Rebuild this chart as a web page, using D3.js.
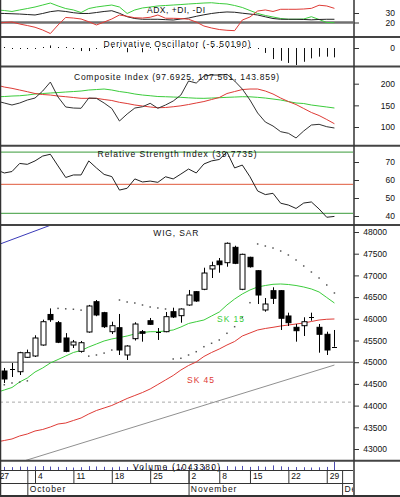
<!DOCTYPE html>
<html><head><meta charset="utf-8">
<script src="https://cdn.jsdelivr.net/npm/d3@7"></script>
<style>body{margin:0;background:#fff}svg{display:block}text{font-family:"Liberation Sans",Arial,sans-serif}</style>
</head><body><svg id="c" width="400" height="497"></svg>
<script>
// ---------- DATA ----------
const days = ["2004-09-27","2004-09-28","2004-09-29","2004-09-30","2004-10-01",
"2004-10-04","2004-10-05","2004-10-06","2004-10-07","2004-10-08",
"2004-10-11","2004-10-12","2004-10-13","2004-10-14","2004-10-15",
"2004-10-18","2004-10-19","2004-10-20","2004-10-21","2004-10-22",
"2004-10-25","2004-10-26","2004-10-27","2004-10-28","2004-10-29",
"2004-11-02","2004-11-03","2004-11-04","2004-11-05",
"2004-11-08","2004-11-09","2004-11-10","2004-11-12",
"2004-11-15","2004-11-16","2004-11-17","2004-11-18","2004-11-19",
"2004-11-22","2004-11-23","2004-11-24","2004-11-25","2004-11-26",
"2004-11-29","2004-11-30","2004-12-01"];

const open  = [null,44797,44850,44781,45113,45143,45396,46100,45910,45558,45396,45250,45696,46394,46141,45703,45795,45166,45542,45703,45956,45703,45703,46164,46072,46318,46625,46680,47148,47332,47293,47647,46680,47417,47108,46203,46648,46648,46065,45804,45841,46050,45804,45643,45357];
const high  = [null,44867,44982,45240,45290,45620,45980,46240,45950,45670,45512,45489,46320,46433,46160,45933,46111,45390,45920,45742,46019,45788,46157,46256,46240,46664,46640,47177,47316,47401,47760,47684,47500,47430,47120,46479,46726,46660,46141,45880,46035,46141,45880,45703,45742];
const low   = [null,44521,44659,44705,45100,45120,45380,45930,45440,45230,45327,45220,45680,46060,45790,45650,45166,45051,45500,45473,45860,45512,45690,46019,45910,46300,46390,46660,46940,47062,47200,47260,46660,47180,46341,46164,46341,45742,45834,45473,45604,45956,45219,45166,45357];
const close = [null,44613,44840,45219,45219,45558,45933,45980,45460,45250,45466,45449,46295,46088,45818,45841,45281,45373,45880,45666,45873,45700,46049,46042,46226,46548,46410,47055,47224,47247,47740,47279,47486,47200,46548,46341,46472,46012,45910,45726,45933,46045,45643,45281,45357];
const sar   = [null,44480,44521,44540,44570,null,null,null,46240,46230,46220,46200,45140,45166,45210,45280,46433,46387,46364,46318,46272,46249,46226,45074,45090,45166,45242,45357,45436,45512,45666,45818,46035,46371,47724,47677,47631,47562,47470,47355,47217,47078,46940,46779,46595];
const sk15  = [44302,44360,44417,44544,44636,44774,44867,44982,45062,45143,45224,45270,45350,45420,45489,45535,45569,45604,45650,45684,45703,45703,45719,45742,45811,45892,45933,45972,46065,46157,46318,46456,46572,46664,46733,46767,46795,46802,46790,46767,46733,46687,46618,46491,46364];
const sk45  = [43162,43196,43231,43300,43346,43415,43450,43507,43576,43599,43657,43715,43807,43887,43945,44003,44083,44164,44233,44302,44383,44486,44590,44694,44820,44924,45005,45132,45224,45304,45396,45477,45604,45673,45742,45777,45804,45834,45857,45880,45903,45938,45972,45989,45996];
const trendDays = ["2004-09-27","2004-11-30"];
const trendVals = [42530,44935];
const blueDays  = ["2004-09-27","2004-10-12"];
const blueVals  = [47694,48419];
const supportLevel = 45000;
const dashedLevel = 44080;
const priceTicks = [48000,47500,47000,46500,46000,45500,45000,44500,44000,43500,43000];

const adx    = [29.7,29.5,29.2,28.9,28.4,27.9,29.5,31.4,32.4,31.6,30.3,29.5,29.5,30.5,31.6,32.4,29.7,26.1,24.2,23.4,23.4,23.4,23,22.6,23.7,24.7,26.5,28.1,29.5,30.5,31.1,30.8,29.8,28.9,27.9,26,24.2,23.4,23.4,23.4,23.2,22.8,23.2,23.4,23.4];
const plusDI = [33.2,32.6,31.6,33.2,34.7,36.3,38.4,40.5,37.4,34.7,33.2,30.5,34.7,36.3,37.4,38.4,36.3,29.5,33.2,35.3,36.3,37.4,37.9,38.4,38.9,39.5,40,40.5,40.8,40,39.5,37.9,35.8,32.6,29.5,27.4,25.8,24.2,23.4,23.4,23.7,26.1,23.2,20,19.8];
const minusDI= [19.2,20,20.5,18.4,16.8,15,12.1,8.4,17.4,25.3,24.7,23.7,20.8,17.4,20.5,23.7,27.9,26.5,25,24.7,25.5,27.9,24.5,24.4,24.2,23.4,20.5,16.3,14.2,12.6,11.8,11.4,22.6,25.8,32.1,33.2,31.6,33.9,33.9,33.9,34.2,34.9,38.2,37.4,34.9];
const adxTicks = [30,20];

const derivOsc = [null,0.3,-0.4,-0.4,-0.4,-0.4,0.4,1.5,0.4,0.4,-0.6,-1.8,-1.8,-0.4,0.4,0.4,0.6,-2.5,0.4,-2.5,0.4,-1.5,0.4,0.4,0.4,0.4,0.4,0.4,0.4,0.4,0.4,0.4,0.4,0.4,-0.6,-2.9,-6.5,-7.5,-8.8,-10,-8.1,-6.1,-5.1,-5.1,-5.5019];
const oscTicks = [0];

const compIdx   = [160,155.4,150.8,155.4,162.3,166.9,183.1,203.8,169.2,146.2,143.8,143.2,166.9,166.2,155.4,142.7,113.8,130,143.8,146.8,154.7,143.2,150.8,160,173.8,206.2,201.5,217.7,220,220,221.6,206.2,187.7,162.3,132.3,111.5,102.3,89.2,85.5,74.6,90.8,104.6,106.2,100.7,97.69];
const compFast  = [196.9,192.3,189.3,185.4,181.5,177.3,175,173.8,171.5,169.9,168.1,166.2,166.2,166.2,163.5,161.2,157,154.2,150.8,148.5,146.2,144.5,145,146.8,148.9,151.9,155.4,158.8,163.5,168.1,177.3,181.9,186.5,187.7,187.7,183.1,176.2,166.9,158.8,151.9,142.7,133.5,126.5,117.3,107.56];
const compSlow  = [169.7,170.4,171.5,172.2,173.8,176.2,177.3,178.5,179.6,180.8,181.9,183.1,185.4,186.5,187.7,185.4,181.9,179.6,176.2,173.8,172.2,170.4,169.9,169.2,168.5,167.4,166.5,166.2,166.9,167.6,168.5,169.2,169.9,169.7,168.5,166.9,164.6,162.3,158.8,155.4,154.2,150.8,148.5,146.2,143.86];
const compTicks = [200,150,100];

const rsi = [65.6,63.9,64.7,69.2,68.7,70.6,73.3,74.3,67.8,61.4,62.8,62.8,70.6,66.7,63.1,61.9,54.4,55.4,60.6,58.9,59.4,58.7,61.8,60.6,63.3,66.1,63.9,68.9,70.6,71.4,75.6,66.7,68.3,61.8,53.9,51.9,52.6,47.1,46.1,44.2,47.2,47.8,43.9,39.3,39.77];
const rsiUpper = 75.5, rsiMid = 57.6, rsiLower = 41.5;
const rsiTicks = [70,60,50,40];

const volume = [null,380000,350000,420000,400000,450000,480000,420000,380000,360000,300000,340000,470000,430000,390000,330000,410000,360000,390000,320000,300000,310000,380000,350000,330000,420000,400000,460000,390000,370000,480000,430000,500000,380000,470000,400000,560000,450000,380000,360000,340000,300000,330000,380000,1043380];

const weekStarts = ["2004-09-27","2004-10-04","2004-10-11","2004-10-18","2004-10-25","2004-11-02","2004-11-08","2004-11-15","2004-11-22","2004-11-29"];
const weekLabels = ["27","4","11","18","25","2","8","15","22","29"];
const monthStarts = ["2004-10-01","2004-11-02","2004-12-01"];
const monthLabels = ["October","November","December"];

// ---------- LAYOUT ----------
const svg = d3.select("#c");
const PR = 353;
const AX = 354;
const GREEN = "#3ccc3c", RED = "#de3b36", BLACK = "#222";
const FONT = '"Liberation Sans",Arial,sans-serif';

const x = d3.scalePoint().domain(days).range([-3.37, 342.1]);

const panels = {
  adx:  [0, 36.5],
  osc:  [37.5, 66],
  comp: [67, 145],
  rsi:  [146.5, 224],
  main: [225.5, 460],
  vol:  [461.5, 470]
};
const defs = svg.append("defs");
Object.entries(panels).forEach(([k,[a,b]])=>{
  defs.append("clipPath").attr("id","clip-"+k).append("rect").attr("x",0).attr("y",a).attr("width",PR).attr("height",b-a);
});
defs.append("clipPath").attr("id","clip-axis").append("rect").attr("x",0).attr("y",470).attr("width",PR).attr("height",27);

const yAdx  = d3.scaleLinear().domain([20,30]).range([22.5,13]);
const yOsc  = d3.scaleLinear().domain([0,-10]).range([48,65]);
const yComp = d3.scaleLinear().domain([100,200]).range([127,83.7]);
const yRsi  = d3.scaleLinear().domain([40,70]).range([216,162]);
const yP    = d3.scaleLinear().domain([43000,48000]).range([449,232]);
const yVol  = d3.scaleLinear().domain([0,1100000]).range([470,461]);

function pg(k){ return svg.append("g").attr("clip-path","url(#clip-"+k+")"); }
function drawLine(g, vals, y, color, w, dates){
  const ds = dates || days;
  const gen = d3.line().defined(d=>d!=null).x((d,i)=>x(ds[i])).y(d=>y(d));
  g.append("path").datum(vals).attr("d",gen).attr("fill","none").attr("stroke",color).attr("stroke-width",w||1);
}
function hline(g, y, color, w, dash){
  const l = g.append("line").attr("x1",0).attr("x2",PR).attr("y1",y).attr("y2",y).attr("stroke",color).attr("stroke-width",w||1);
  if(dash) l.attr("stroke-dasharray",dash);
}
function title(txt, x0, base, len, color){
  svg.append("text").attr("x",x0).attr("y",base).attr("font-size",8.5).attr("fill",color||"#111")
    .attr("textLength",len).attr("lengthAdjust","spacing").text(txt);
}

// ---- Panel 1: ADX ----
const g1 = pg("adx");
hline(g1, yAdx(20), "#707070", 2.5);
drawLine(g1, plusDI, yAdx, GREEN);
drawLine(g1, adx, yAdx, BLACK);
drawLine(g1, minusDI, yAdx, RED);
title("ADX, +DI, -DI", 147, 12.7, 58);

// ---- Panel 2: Derivative oscillator ----
const g2 = pg("osc");
derivOsc.forEach((v,i)=>{
  if(v==null) return;
  const cx = Math.round(x(days[i]))+0.5;
  let y0 = yOsc(0), y1 = yOsc(v);
  if(Math.abs(y1-y0)<1) y1 = y0 + (v<0?1:-1);
  g2.append("line").attr("x1",cx).attr("x2",cx).attr("y1",y0).attr("y2",y1).attr("stroke","#111").attr("stroke-width",1);
});
title("Derivative Oscillator (-5.50190)", 103.5, 46.5, 147);

// ---- Panel 3: Composite ----
const g3 = pg("comp");
drawLine(g3, compSlow, yComp, GREEN);
drawLine(g3, compFast, yComp, RED);
drawLine(g3, compIdx, yComp, "#333");
title("Composite Index (97.6925, 107.561, 143.859)", 74, 80, 205);

// ---- Panel 4: RSI ----
const g4 = pg("rsi");
hline(g4, yRsi(rsiUpper), "#3a9a3a", 1);
hline(g4, yRsi(rsiMid), "#e05a3c", 1);
hline(g4, yRsi(rsiLower), "#3a9a3a", 1);
drawLine(g4, rsi, yRsi, "#222");
title("Relative Strength Index (39.7735)", 97.5, 156.7, 159);

// ---- Panel 5: WIG ----
const g5 = pg("main");
hline(g5, yP(dashedLevel), "#aaa", 1, "3,3");
hline(g5, yP(supportLevel), "#8a8a8a", 1.5);
drawLine(g5, trendVals, yP, "#909090", 1, trendDays);
drawLine(g5, blueVals, yP, "#3a3ab8", 1, blueDays);
drawLine(g5, sk45, yP, RED);
drawLine(g5, sk15, yP, GREEN);
sar.forEach((v,i)=>{
  if(v==null) return;
  g5.append("rect").attr("x",x(days[i])-0.75).attr("y",yP(v)-0.75).attr("width",1.5).attr("height",1.5).attr("fill","#555");
});
open.forEach((o,i)=>{
  if(o==null) return;
  const cx = Math.round(x(days[i]));
  const c = close[i];
  g5.append("line").attr("x1",cx+0.5).attr("x2",cx+0.5).attr("y1",yP(high[i])).attr("y2",yP(low[i])).attr("stroke","#000");
  const top = yP(Math.max(o,c)), bot = yP(Math.min(o,c));
  if(bot-top < 1.5){
    g5.append("line").attr("x1",cx-2).attr("x2",cx+3).attr("y1",Math.round(top)+0.5).attr("y2",Math.round(top)+0.5).attr("stroke","#000");
  } else {
    g5.append("rect").attr("x",cx-2).attr("y",top).attr("width",5).attr("height",bot-top)
      .attr("fill", c>o ? "#fff" : "#000").attr("stroke","#000").attr("stroke-width",1);
  }
});
title("WIG, SAR", 153.3, 236, 45);
svg.append("text").attr("x",217).attr("y",322).attr("font-size",8.5).attr("fill",GREEN).attr("textLength",27).attr("lengthAdjust","spacing").text("SK 15");
svg.append("text").attr("x",187).attr("y",383).attr("font-size",8.5).attr("fill",RED).attr("textLength",27).attr("lengthAdjust","spacing").text("SK 45");

// ---- Volume ----
const gv = pg("vol");
volume.forEach((v,i)=>{
  if(v==null) return;
  const cx = Math.round(x(days[i]))+0.5;
  gv.append("line").attr("x1",cx).attr("x2",cx).attr("y1",yVol(0)).attr("y2",yVol(v)).attr("stroke","#4b4bb0").attr("stroke-width",1);
});
title("Volume (1043380)", 133, 470, 87);

// ---- Separators / frame ----
const sepY = [37, 66.5, 145.8, 225, 460.8];
sepY.forEach(y=>svg.append("line").attr("x1",0).attr("x2",400).attr("y1",y).attr("y2",y).attr("stroke","#444").attr("stroke-width",2));
[470.5, 483.5].forEach(y=>svg.append("line").attr("x1",0).attr("x2",PR).attr("y1",y).attr("y2",y).attr("stroke","#333").attr("stroke-width",1));
svg.append("line").attr("x1",0).attr("x2",400).attr("y1",496).attr("y2",496).attr("stroke","#333").attr("stroke-width",2);
svg.append("line").attr("x1",0.5).attr("x2",0.5).attr("y1",0).attr("y2",497).attr("stroke","#333").attr("stroke-width",1.5);
svg.append("line").attr("x1",AX).attr("x2",AX).attr("y1",0).attr("y2",496).attr("stroke","#333").attr("stroke-width",1.5);

// ---- Right axes ----
function rightAxis(scale, ticks, fmt, rightEdge){
  const g = svg.append("g").attr("transform",`translate(${AX},0)`)
    .call(d3.axisRight(scale).tickValues(ticks).tickSize(5).tickFormat(fmt));
  g.select(".domain").remove();
  g.selectAll(".tick line").attr("stroke","#333");
  g.selectAll(".tick text").attr("x", rightEdge-AX).attr("text-anchor","end")
    .attr("font-size",8.5).attr("font-family",FONT).attr("fill","#111");
  return g;
}
rightAxis(yAdx, adxTicks, d3.format("d"), 395);
rightAxis(yOsc, oscTicks, d3.format("d"), 395);
rightAxis(yComp, compTicks, d3.format("d"), 395);
rightAxis(yRsi, rsiTicks, d3.format("d"), 395);
rightAxis(yP, priceTicks, d3.format("d"), 387);

// ---- Date axis ----
const gWeek = svg.append("g").attr("clip-path","url(#clip-axis)").append("g").attr("transform","translate(0,470.5)")
  .call(d3.axisBottom(x).tickValues(weekStarts).tickSize(13).tickFormat((d,i)=>weekLabels[i]));
gWeek.select(".domain").remove();
gWeek.selectAll(".tick line").attr("stroke","#333");
gWeek.selectAll(".tick text").attr("x",2.5).attr("y",2.5).attr("dy","0.75em").attr("text-anchor","start")
  .attr("font-size",8.5).attr("font-family",FONT).attr("fill","#111");

const gMon = svg.append("g").attr("clip-path","url(#clip-axis)").append("g").attr("transform","translate(0,470.5)")
  .call(d3.axisBottom(x).tickValues(monthStarts).tickSize(25.5).tickFormat((d,i)=>monthLabels[i]));
gMon.select(".domain").remove();
gMon.selectAll(".tick line").attr("stroke","#333");
gMon.selectAll(".tick text").attr("x",1.8).attr("y",15.5).attr("dy","0.75em").attr("text-anchor","start")
  .attr("font-size",8.5).attr("font-family",FONT).attr("fill","#111")
  .attr("letter-spacing","0.9px");
</script></body></html>
